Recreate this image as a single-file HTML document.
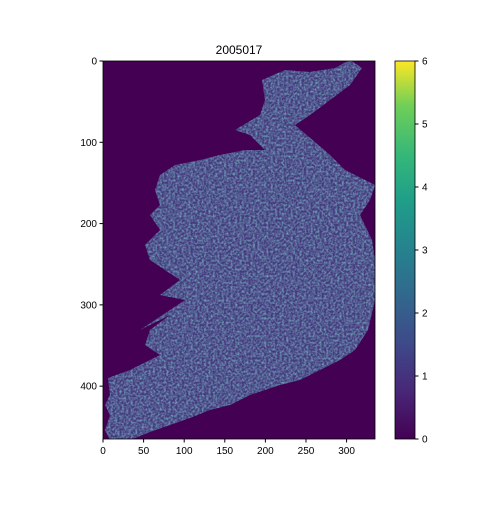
<!DOCTYPE html>
<html><head><meta charset="utf-8"><style>
body{margin:0;background:#fff;}
svg text{font-family:"Liberation Sans",sans-serif;font-size:10px;fill:#000;}
</style></head><body>
<svg id="c" width="504" height="504">
<defs>
<linearGradient id="vir" x1="0" y1="1" x2="0" y2="0">
<stop offset="0" stop-color="#440154"/><stop offset="0.13" stop-color="#482878"/>
<stop offset="0.25" stop-color="#3e4989"/><stop offset="0.38" stop-color="#31688e"/>
<stop offset="0.5" stop-color="#26828e"/><stop offset="0.63" stop-color="#1f9e89"/>
<stop offset="0.75" stop-color="#35b779"/><stop offset="0.88" stop-color="#6ece58"/>
<stop offset="1" stop-color="#fde725"/></linearGradient>
<clipPath id="land"><polygon points="262,80 285,70 310,72 335,68 350,60 362,68 350,85 330,100 310,115 295,125 330,155 345,170 375,185 370,200 360,215 372,240 375,260 375,300 368,330 355,350 340,360 320,370 300,380 280,385 250,395 230,405 210,410 190,418 170,425 150,432 130,440 110,440 105,430 110,415 105,405 110,395 108,378 130,370 160,355 145,345 150,330 170,315 140,330 185,300 160,295 180,280 150,260 145,245 160,230 150,215 160,205 155,190 160,175 175,165 200,160 220,155 245,150 265,150 250,135 235,130 260,115 265,100"/></clipPath>
<filter id="noise" x="0" y="0" width="100%" height="100%">
<feTurbulence type="fractalNoise" baseFrequency="0.45" numOctaves="2" seed="4"/>
<feColorMatrix type="matrix" values="0 0 0 0 0.19  0 0 0 0 0.50  0 0 0 0 0.55  1.6 0 0 0 -0.55"/>
</filter>
</defs>
<text x="239" y="54" text-anchor="middle" style="font-size:12px">2005017</text>
<rect x="103" y="61" width="272" height="378" fill="#440154"/>
<g clip-path="url(#land)">
<rect x="103" y="61" width="272" height="378" fill="#46397f"/>
<rect x="103" y="61" width="272" height="378" filter="url(#noise)"/>
</g>
<rect x="103" y="61" width="272" height="378" fill="none" stroke="#000" stroke-width="0.8"/>
<rect x="395" y="61" width="20" height="378" fill="url(#vir)" stroke="#000" stroke-width="0.8"/>
<g id="axes"></g>
</svg>
<script>
const xTicks=[0,50,100,150,200,250,300];
const yTicks=[0,100,200,300,400];
const cbTicks=[0,1,2,3,4,5,6];
const xMax=335, yMax=465, cbMax=6;
const X0=103,X1=375,Y0=61,Y1=439;
const sx=v=>X0+v/xMax*(X1-X0), sy=v=>Y0+v/yMax*(Y1-Y0), sc=v=>Y1-v/cbMax*(Y1-Y0);
const g=document.getElementById('axes'),NS='http://www.w3.org/2000/svg';
function mk(t,a){const e=document.createElementNS(NS,t);for(const k in a)e.setAttribute(k,a[k]);g.appendChild(e);return e;}
xTicks.forEach(v=>{const x=sx(v);
const l=mk('line',{x1:x,x2:x,y1:Y1,y2:Y1+3.5,stroke:'#000'});


const t=mk('text',{x:x,y:Y1+15,'text-anchor':'middle'});t.textContent=v;

});
yTicks.forEach(v=>{const y=sy(v);
const l=mk('line',{x1:X0-3.5,x2:X0,y1:y,y2:y,stroke:'#000'});


const t=mk('text',{x:X0-6,y:y+3.5,'text-anchor':'end'});t.textContent=v;

});
cbTicks.forEach(v=>{const y=sc(v);
const l=mk('line',{x1:415,x2:418.5,y1:y,y2:y,stroke:'#000'});


const t=mk('text',{x:422,y:y+3.5});t.textContent=v;

});
</script>
</body></html>
